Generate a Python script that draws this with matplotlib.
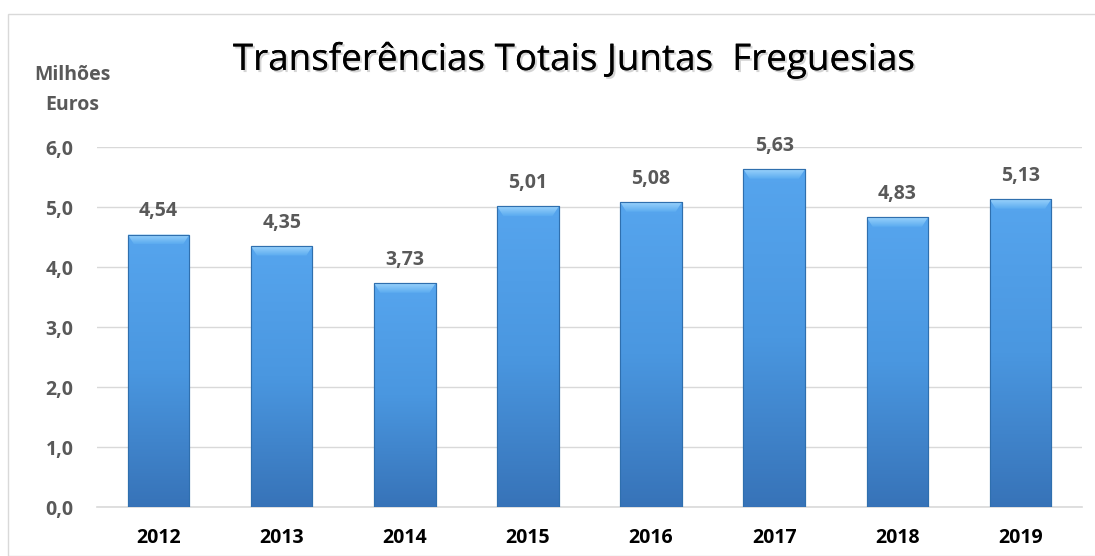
import numpy as np
import matplotlib
matplotlib.use("Agg")
import matplotlib.pyplot as plt
import matplotlib.patheffects as pe
from matplotlib.patches import Rectangle, Polygon
from matplotlib.colors import LinearSegmentedColormap

# data
years = ["2012", "2013", "2014", "2015", "2016", "2017", "2018", "2019"]
values = [4.54, 4.35, 3.73, 5.01, 5.08, 5.63, 4.83, 5.13]
yticks = [0, 1, 2, 3, 4, 5, 6]

plt.rcParams['font.family'] = ['Open Sans', 'DejaVu Sans']
grey = "#595959"
fs = 14

fig = plt.figure(figsize=(10.95, 5.56), dpi=100)
ax = fig.add_axes([97 / 1095, 1 - 507 / 556, 985 / 1095, 360 / 556])

x = np.arange(len(years))
width = 0.5
bars = ax.bar(x, values, width=width, color="#4A97E0", edgecolor="#2F6FAE",
              linewidth=0.8, zorder=3)

# vertical gradient inside each bar
cmap = LinearSegmentedColormap.from_list("barblue", ["#3773B8", "#4A97E0", "#56A5EE"])
grad = np.linspace(0, 1, 256).reshape(-1, 1)
bevel_cmap = LinearSegmentedColormap.from_list("bevel", ["#5AAAF0", "#9AD3FB"])
for b, v in zip(bars, values):
    x0 = b.get_x()
    im = ax.imshow(grad, cmap=cmap, origin="lower", aspect="auto",
                   extent=[x0, x0 + width, 0, v], zorder=3.5)
    im.set_clip_path(b)
    # light bevel on the top edge
    bev = 0.16
    dx = width * 0.1
    top = Polygon([[x0, v], [x0 + width, v], [x0 + width - dx, v - bev], [x0 + dx, v - bev]],
                  closed=True, facecolor="none", edgecolor="none", zorder=4)
    ax.add_patch(top)
    bim = ax.imshow(grad, cmap=bevel_cmap, origin="lower", aspect="auto",
                    extent=[x0, x0 + width, v - bev, v], zorder=4)
    bim.set_clip_path(top)
    ax.add_patch(Rectangle((x0, 0), width, v, fill=False, edgecolor="#2F6FAE",
                           linewidth=0.8, zorder=4.5))
    ax.text(b.get_x() + width / 2, v + 0.22, f"{v:.2f}".replace(".", ","),
            ha="center", va="bottom", fontsize=fs, fontweight="bold", color=grey, zorder=5)

ax.set_xlim(-0.5, 7.5)
ax.set_ylim(0, 6)
ax.set_xticks(x)
ax.set_xticklabels(years, fontsize=fs, fontweight="bold", color="black")
ax.set_yticks(yticks)
ax.set_yticklabels([f"{t:.1f}".replace(".", ",") for t in yticks],
                   fontsize=fs, fontweight="bold", color=grey)
ax.tick_params(length=0)
ax.tick_params(axis="y", pad=17)
ax.tick_params(axis="x", pad=15)
ax.yaxis.grid(True, color="#D9D9D9", linewidth=1, zorder=0)
ax.set_axisbelow(True)
for s in ["top", "right", "left"]:
    ax.spines[s].set_visible(False)
ax.spines["bottom"].set_color("#D9D9D9")
ax.spines["bottom"].set_linewidth(1.2)

fig.text(573 / 1095, 1 - 70 / 556, "Transferências Totais Juntas  Freguesias",
         ha="center", va="baseline", fontsize=26.5, color="black",
         path_effects=[pe.withSimplePatchShadow(offset=(1.5, -1.5), shadow_rgbFace="#AAAAAA", alpha=0.5),
                       pe.Normal()])
fig.text(72 / 1095, 1 - 80 / 556, "Milhões", ha="center", va="baseline",
         fontsize=fs, fontweight="bold", color=grey)
fig.text(72 / 1095, 1 - 110 / 556, "Euros", ha="center", va="baseline",
         fontsize=fs, fontweight="bold", color=grey)

# chart frame
fig.patches.append(Rectangle((8 / 1095, 0), 1.2, 1 - 14 / 556, transform=fig.transFigure,
                             fill=False, edgecolor="#D9D9D9", linewidth=1))

fig.savefig("out.png", dpi=100)
